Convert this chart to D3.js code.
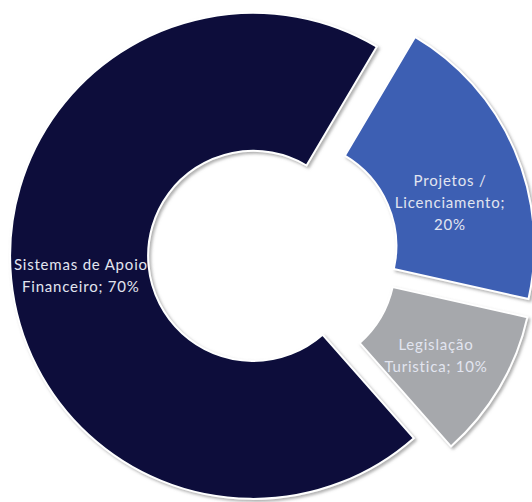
<!DOCTYPE html>
<html>
<head>
<meta charset="utf-8">
<script src="https://cdn.jsdelivr.net/npm/d3@7"></script>
<style>
  html, body { margin: 0; padding: 0; background: #ffffff; }
  svg { display: block; }
</style>
</head>
<body>
<svg id="chart" width="532" height="502"></svg>
<script>
// ---- data ----
const categories = ["Sistemas de Apoio Financeiro", "Projetos / Licenciamento", "Legislação Turística"];
const values = [70, 20, 10];
const labelLines = [
  ["Sistemas de Apoio", "Financeiro; 70%"],
  ["Projetos /", "Licenciamento;", "20%"],
  ["Legislação", "Turistica; 10%"]
];
const colors = ["#0a0e3b", "#3e5fb3", "#a6a8ac"];

// ---- layout ----
const width = 532, height = 502;
const cx = 273, cy = 254;
const outerR = 243, innerR = 105, explode = 20;
const startDeg = 138.6;
// small label nudges (layout only), per slice index
const labelNudge = [[1, -7], [-1, 15], [-4, -8]];

const svg = d3.select("#chart");
const defs = svg.append("defs");
const f = defs.append("filter").attr("id", "shadow")
  .attr("x", "-10%").attr("y", "-10%").attr("width", "120%").attr("height", "120%");
f.append("feDropShadow").attr("dx", 2).attr("dy", 2).attr("stdDeviation", 1.6)
  .attr("flood-color", "#7a7a7a").attr("flood-opacity", 0.6);

const data = categories.map((c, i) => ({ cat: c, value: values[i], lines: labelLines[i], color: colors[i] }));

const pie = d3.pie().value(d => d.value).sort(null)
  .startAngle(startDeg * Math.PI / 180)
  .endAngle((startDeg + 360) * Math.PI / 180);
const arc = d3.arc().innerRadius(innerR).outerRadius(outerR);
const arcs = pie(data);

const g = svg.append("g").attr("transform", `translate(${cx},${cy})`);

const slice = g.selectAll("g.slice").data(arcs).join("g")
  .attr("class", "slice")
  .attr("transform", d => {
    const mid = (d.startAngle + d.endAngle) / 2;
    return `translate(${explode * Math.sin(mid)},${-explode * Math.cos(mid)})`;
  });

slice.append("path")
  .attr("d", arc)
  .attr("fill", d => d.data.color)
  .attr("stroke", "#ffffff")
  .attr("stroke-width", 2)
  .attr("filter", "url(#shadow)");

const lineH = 22;
slice.append("text")
  .attr("text-anchor", "middle")
  .attr("font-family", "Lato, 'Open Sans', sans-serif")
  .attr("font-size", 15)
  .attr("letter-spacing", 0.8)
  .attr("fill", "#e2e5f0")
  .each(function(d) {
    const c = arc.centroid(d);
    const nud = labelNudge[d.index];
    const n = d.data.lines.length;
    const x = c[0] + nud[0];
    const y0 = c[1] - (n - 1) * lineH / 2 + 16 + nud[1];
    d3.select(this).selectAll("tspan").data(d.data.lines).join("tspan")
      .attr("x", x)
      .attr("y", (t, i) => y0 + i * lineH)
      .text(t => t);
  });
</script>
</body>
</html>
